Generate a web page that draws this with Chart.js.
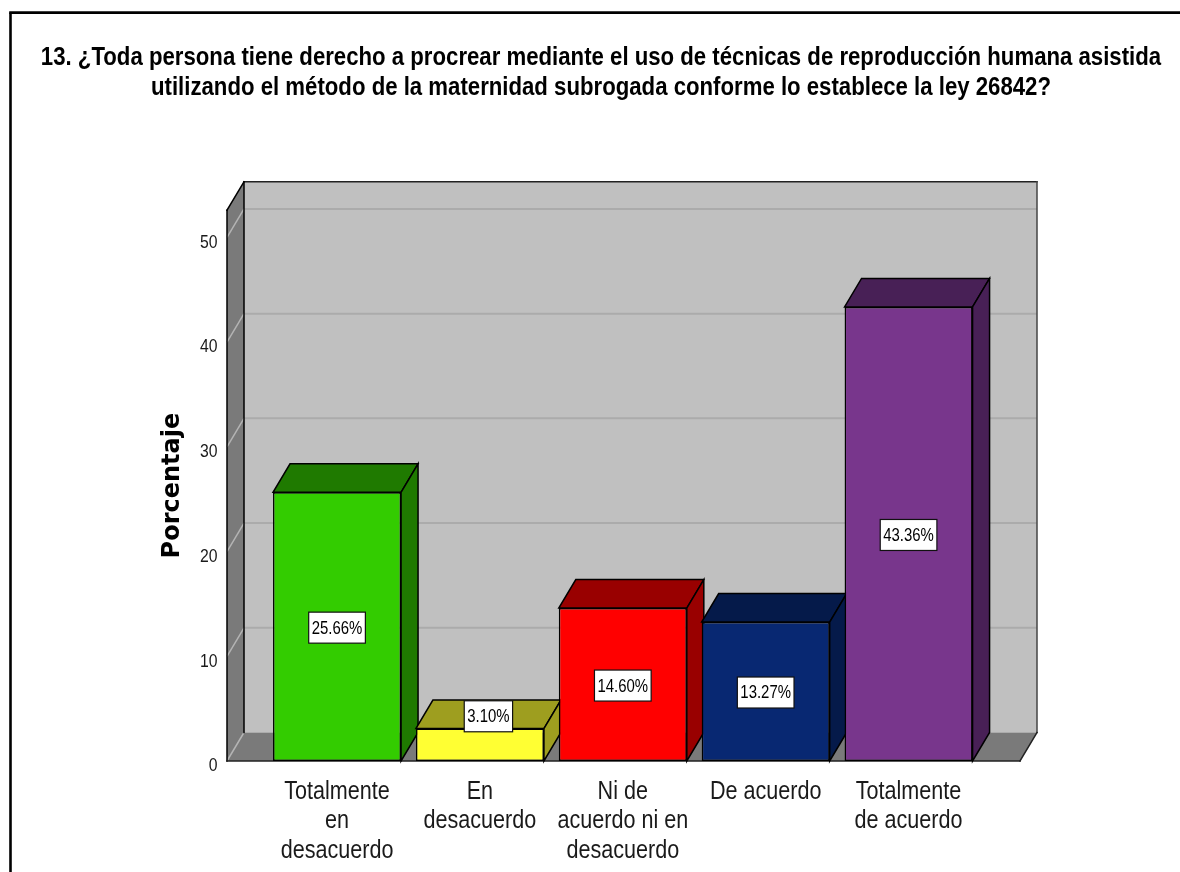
<!DOCTYPE html>
<html>
<head>
<meta charset="utf-8">
<title>Porcentaje</title>
<style>
    html, body { margin: 0; background: #fff; }
    canvas { display: block; }
</style>
<script src="https://cdn.jsdelivr.net/npm/chart.js@4/dist/chart.umd.min.js"></script>
</head>
<body>
<canvas id="chart" width="1180" height="872"></canvas>
<script>
const titleLines = [
    '13. ¿Toda persona tiene derecho a procrear mediante el uso de técnicas de reproducción humana asistida',
    'utilizando el método de la maternidad subrogada conforme lo establece la ley 26842?'
];
const categories = [
    ['Totalmente', 'en', 'desacuerdo'],
    ['En', 'desacuerdo'],
    ['Ni de', 'acuerdo ni en', 'desacuerdo'],
    ['De acuerdo'],
    ['Totalmente', 'de acuerdo']
];
const percentages = [25.66, 3.10, 14.60, 13.27, 43.36];
const barColors = ['#33cc00', '#ffff33', '#ff0000', '#082872', '#78368c'];
const shadeColors = ['#1f7a00', '#9e9e1f', '#990000', '#051a4a', '#482056'];
const axisTitle = 'Porcentaje';

const SANS = '"Liberation Sans", Arial, sans-serif';

// the fake 3D depth of the SPSS style chart
const depthX = 17;
const depthY = 28.5;

// the reference text is squeezed sideways and there is no narrow font here,
// so every Liberation Sans text goes through fillText with a shorter maxWidth
const squeezeTitle = 0.87;
const squeezeText = 0.83;
const canvas = document.getElementById('chart');
const context = canvas.getContext('2d');
const plainFillText = context.fillText;
context.fillText = function (text, x, y, maxWidth) {
    if (this.font.includes('DejaVu')) {
        return plainFillText.call(this, text, x, y);
    }
    const squeeze = this.font.includes('bold') ? squeezeTitle : squeezeText;
    const width = this.measureText(text).width * squeeze;
    return plainFillText.call(this, text, x, y, maxWidth ? Math.min(maxWidth, width) : width);
};

function poly(ctx, points, fill, stroke) {
    ctx.beginPath();
    points.forEach((p, i) => i ? ctx.lineTo(p[0], p[1]) : ctx.moveTo(p[0], p[1]));
    ctx.closePath();
    if (fill) {
        ctx.fillStyle = fill;
        ctx.fill();
    }
    if (stroke) {
        ctx.strokeStyle = stroke;
        ctx.lineWidth = 1.5;
        ctx.stroke();
    }
}

function line(ctx, x1, y1, x2, y2, color, width) {
    ctx.beginPath();
    ctx.moveTo(x1, y1);
    ctx.lineTo(x2, y2);
    ctx.strokeStyle = color;
    ctx.lineWidth = width;
    ctx.stroke();
}

const frame = {
    id: 'frame',
    beforeDraw(chart) {
        const ctx = chart.ctx;
        ctx.save();
        ctx.fillStyle = '#fff';
        ctx.fillRect(0, 0, chart.width, chart.height);
        line(ctx, 10.5, 12.5, 10.5, chart.height, '#000', 2.6);
        line(ctx, 9.2, 12.6, chart.width, 12.6, '#000', 2.6);
        ctx.restore();
    }
};

const box3d = {
    id: 'box3d',
    beforeDatasetsDraw(chart) {
        const ctx = chart.ctx;
        const area = chart.chartArea;
        const yScale = chart.scales.y;
        const left = area.left - 38.6;
        const right = area.right + 40;
        const top = area.top;
        const bottom = area.bottom;

        ctx.save();
        // back wall, floor and left wall
        poly(ctx, [[left + depthX, top - depthY], [right + depthX, top - depthY], [right + depthX, bottom - depthY], [left + depthX, bottom - depthY]], '#c0c0c0');
        poly(ctx, [[left, bottom], [right, bottom], [right + depthX, bottom - depthY], [left + depthX, bottom - depthY]], '#7a7a7a');
        poly(ctx, [[left, top], [left + depthX, top - depthY], [left + depthX, bottom - depthY], [left, bottom]], '#7a7a7a');

        yScale.ticks.forEach(tick => {
            const y = yScale.getPixelForValue(tick.value);
            if (tick.value > 0) {
                line(ctx, left + depthX, y - depthY, right + depthX, y - depthY, '#ababab', 2);
            }
            line(ctx, left, y, left + depthX, y - depthY, '#b4b4b4', 1.5);
        });

        // outlines of the box
        ctx.lineCap = 'square';
        line(ctx, left, top, left + depthX, top - depthY, '#000', 1.5);
        line(ctx, left + depthX, top - depthY, right + depthX, top - depthY, '#222', 1.5);
        line(ctx, right + depthX, top - depthY, right + depthX, bottom - depthY, '#444', 1.5);
        line(ctx, left + depthX, top - depthY, left + depthX, bottom - depthY, '#000', 1.5);
        line(ctx, left, top, left, bottom, '#000', 1.5);
        line(ctx, left, bottom, right, bottom, '#222', 1.5);
        line(ctx, right, bottom, right + depthX, bottom - depthY, '#222', 1.5);

        // top and side faces, left to right so the next bar covers the last one
        chart.getDatasetMeta(0).data.forEach((bar, i) => {
            const x1 = bar.x - bar.width / 2;
            const x2 = bar.x + bar.width / 2;
            poly(ctx, [[x1, bar.y], [x2, bar.y], [x2 + depthX, bar.y - depthY], [x1 + depthX, bar.y - depthY]], shadeColors[i], '#000');
            poly(ctx, [[x2, bar.y], [x2 + depthX, bar.y - depthY], [x2 + depthX, bar.base - depthY], [x2, bar.base]], shadeColors[i], '#000');
        });
        ctx.restore();
    },
    afterDatasetsDraw(chart) {
        const ctx = chart.ctx;
        ctx.save();
        ctx.font = '18px ' + SANS;
        ctx.textAlign = 'center';
        ctx.textBaseline = 'middle';
        chart.getDatasetMeta(0).data.forEach((bar, i) => {
            const text = percentages[i].toFixed(2) + '%';
            const w = ctx.measureText(text).width * squeezeText + 6;
            const h = 31;
            let x = bar.x;
            let y = (bar.y + bar.base) / 2 + 1;
            // too short for the box: it sits on the top face
            if (bar.base - bar.y < h + 8) {
                x += depthX / 2;
                y = bar.y - depthY / 2 + 2;
            }
            ctx.fillStyle = '#fff';
            ctx.fillRect(x - w / 2, y - h / 2, w, h);
            ctx.strokeStyle = '#111';
            ctx.lineWidth = 1.2;
            ctx.strokeRect(x - w / 2, y - h / 2, w, h);
            ctx.fillStyle = '#000';
            ctx.fillText(text, x, y + 1);
        });
        ctx.restore();
    }
};

new Chart(canvas, {
    type: 'bar',
    data: {
        labels: categories,
        datasets: [{
            data: percentages,
            backgroundColor: barColors,
            borderColor: '#000',
            borderWidth: 1.5,
            borderSkipped: false,
            barPercentage: 0.896,
            categoryPercentage: 1
        }]
    },
    options: {
        responsive: false,
        animation: false,
        layout: { padding: { left: 22, top: 43, right: 0, bottom: 0 } },
        plugins: {
            legend: { display: false },
            tooltip: { enabled: false },
            title: {
                display: true,
                text: titleLines,
                color: '#000',
                font: { family: SANS, size: 25.5, weight: 'bold', lineHeight: 1.18 },
                padding: { top: 0, bottom: 107 }
            }
        },
        scales: {
            x: {
                grid: { display: false },
                border: { display: false },
                ticks: {
                    color: '#1a1a1a',
                    font: { family: SANS, size: 26, lineHeight: 1.13 },
                    padding: 8,
                    maxRotation: 0,
                    autoSkip: false
                },
                afterFit(scale) { scale.height = 111; }
            },
            y: {
                min: 0,
                max: 52.6,
                grid: { display: false },
                border: { display: false },
                title: {
                    display: true,
                    text: axisTitle,
                    color: '#000',
                    font: { family: '"DejaVu Sans"', size: 24, weight: 'bold' },
                    padding: { top: 136, bottom: 0 }
                },
                ticks: {
                    stepSize: 10,
                    includeBounds: false,
                    color: '#1a1a1a',
                    font: { family: SANS, size: 19 },
                    padding: 40,
                    labelOffset: 5
                },
                afterFit(scale) { scale.width = 243.6; }
            },
            // keeps the plot clear of the right side while the title stays centred on the page
            yRight: {
                position: 'right',
                grid: { display: false },
                border: { display: false },
                ticks: { display: false },
                afterFit(scale) { scale.width = 200; }
            }
        }
    },
    plugins: [frame, box3d]
});
</script>
</body>
</html>
